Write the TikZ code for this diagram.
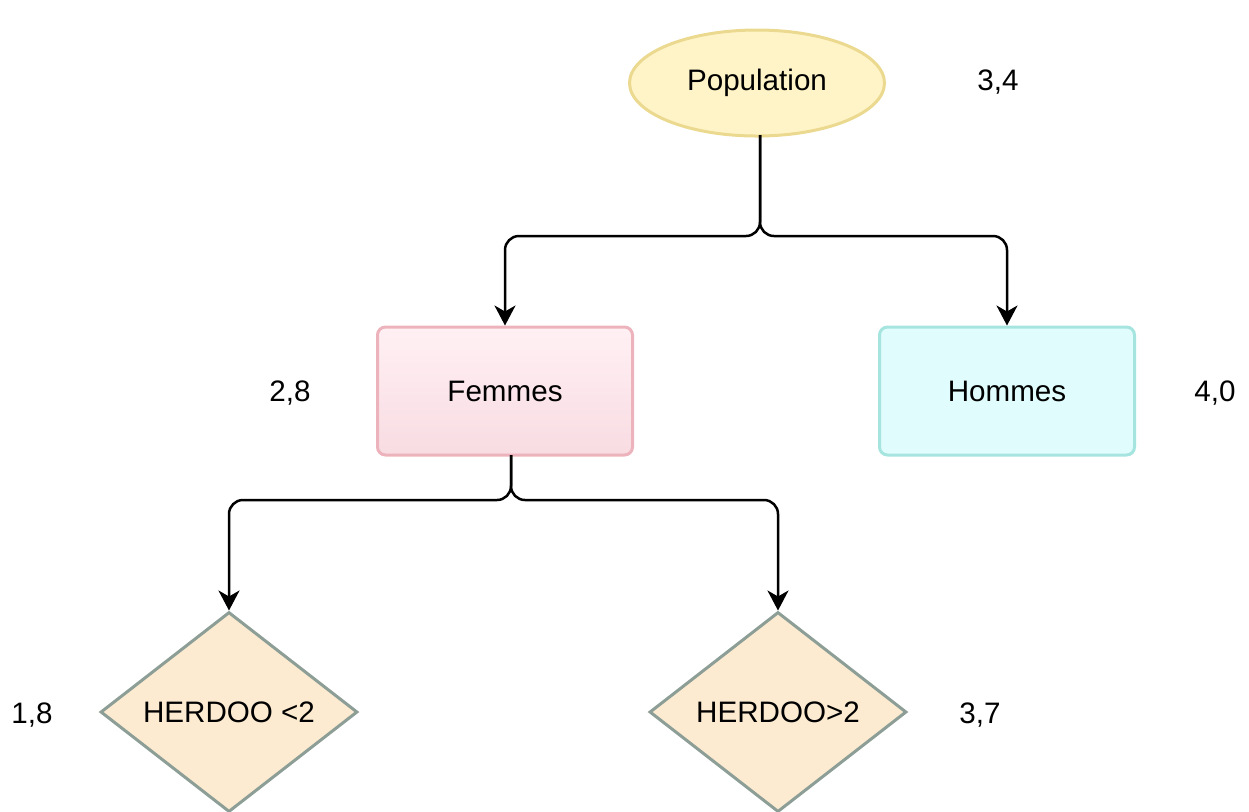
\documentclass[tikz,border=0pt]{standalone}
\usepackage{fontspec}
\setmainfont{Liberation Sans}
\usetikzlibrary{shapes.geometric,arrows.meta}
\definecolor{popfill}{HTML}{FFF4C8}
\definecolor{popdraw}{HTML}{EBD98F}
\definecolor{femtop}{HTML}{FFF0F4}
\definecolor{fembot}{HTML}{F8DCE2}
\definecolor{femdraw}{HTML}{EDB3BC}
\definecolor{homfill}{HTML}{E0FCFC}
\definecolor{homdraw}{HTML}{A6E5DF}
\definecolor{diafill}{HTML}{FCEBD1}
\definecolor{diadraw}{HTML}{8C9E96}
\begin{document}
\begin{tikzpicture}[x=0.5pt,y=-0.5pt,
  every node/.style={font=\fontsize{14.8}{17}\selectfont, inner sep=0pt},
  ell/.style={ellipse, draw=popdraw, fill=popfill, line width=1.5pt, minimum width=127.5pt, minimum height=53pt},
  femstyle/.style={rectangle, rounded corners=4pt, draw=femdraw, top color=femtop, bottom color=fembot, line width=1.5pt, minimum width=127.5pt, minimum height=64pt},
  homstyle/.style={rectangle, rounded corners=4pt, draw=homdraw, fill=homfill, line width=1.5pt, minimum width=127.5pt, minimum height=64pt},
  dia/.style={diamond, aspect=1.285, draw=diadraw, fill=diafill, line width=1.5pt, minimum width=128.5pt, minimum height=100pt},
  val/.style={},
  arr/.style={draw=black, line width=1.25pt, rounded corners=7pt, -{Stealth[length=10pt,width=10.5pt,inset=3pt]}}
]
\useasboundingbox (0,0) rectangle (1249,811);
\node[ell] (pop) at (757,83) {Population};
\node[femstyle] (fem) at (505,391) {Femmes};
\node[homstyle] (hom) at (1007,391) {Hommes};
\node[dia] (d1) at (229,712) {HERDOO <2};
\node[dia] (d2) at (778,712) {HERDOO>2};
\node[val] (v1) at (998,82) {3,4};
\node[val] (v2) at (290,393) {2,8};
\node[val] (v3) at (1215,393) {4,0};
\node[val] (v4) at (32,715) {1,8};
\node[val] (v5) at (980,715) {3,7};
\coordinate (pb) at (760,135);
\coordinate (fb) at (511,455);
\draw[arr] (pb) -- (760,236) -| (fem.north);
\draw[arr] (pb) -- (760,236) -| (hom.north);
\draw[arr] (fb) -- (511,500) -| (d1.north);
\draw[arr] (fb) -- (511,500) -| (d2.north);
\end{tikzpicture}
\end{document}
